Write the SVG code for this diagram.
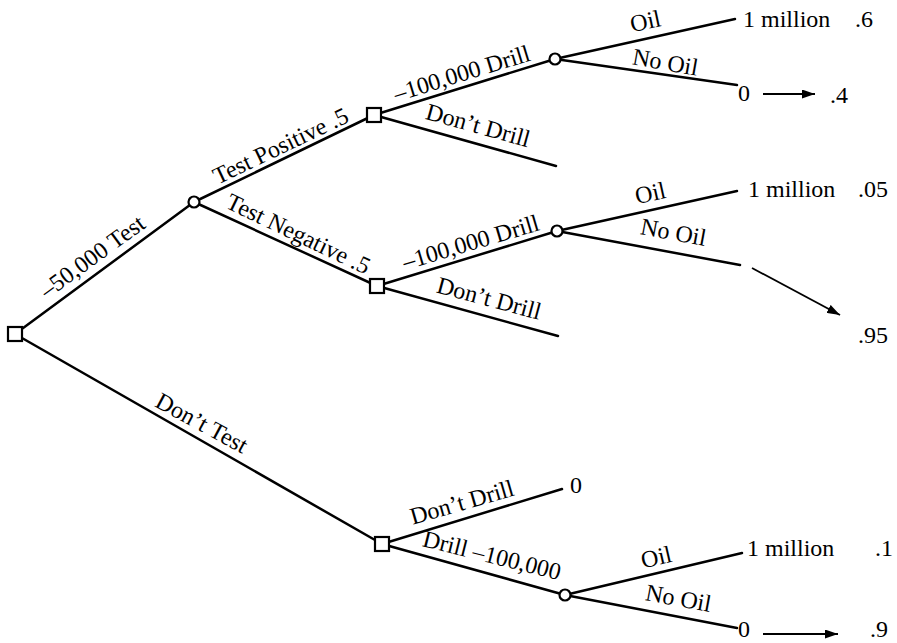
<svg xmlns="http://www.w3.org/2000/svg" width="897" height="643" viewBox="0 0 897 643">
<style>
.ln{stroke:#000;stroke-width:2.5;fill:none;stroke-linecap:round}
.ar{stroke:#000;stroke-width:1.8;fill:none}
.dec{fill:#fff;stroke:#000;stroke-width:2.2}
.chn{fill:#fff;stroke:#000;stroke-width:2.2}
text{font-family:"Liberation Serif","Times New Roman",serif;font-size:24px;fill:#000}
.lbl{text-anchor:middle}
</style>
<defs>
<marker id="ah" viewBox="0 0 13 9" refX="13" refY="4.5" markerWidth="13" markerHeight="9" markerUnits="userSpaceOnUse" orient="auto">
<path d="M0,0 L13,4.5 L0,9 Z" fill="#000"/>
</marker>
</defs>
<g id="connectors">
<line class="ln" x1="15" y1="334" x2="194" y2="202"/>
<line class="ln" x1="15" y1="334" x2="382" y2="544"/>
<line class="ln" x1="194" y1="202" x2="374" y2="115"/>
<line class="ln" x1="194" y1="202" x2="377" y2="286"/>
<line class="ln" x1="374" y1="115" x2="555" y2="59"/>
<line class="ln" x1="374" y1="115" x2="556" y2="166"/>
<line class="ln" x1="555" y1="59" x2="735" y2="19"/>
<line class="ln" x1="555" y1="59" x2="737" y2="85"/>
<line class="ln" x1="377" y1="286" x2="557" y2="231"/>
<line class="ln" x1="377" y1="286" x2="558" y2="336"/>
<line class="ln" x1="557" y1="231" x2="737" y2="191"/>
<line class="ln" x1="557" y1="231" x2="740" y2="265"/>
<line class="ln" x1="382" y1="544" x2="562" y2="489"/>
<line class="ln" x1="382" y1="544" x2="565" y2="595"/>
<line class="ln" x1="565" y1="595" x2="742" y2="553"/>
<line class="ln" x1="565" y1="595" x2="737" y2="628"/>
<line class="ar" x1="763" y1="94" x2="815" y2="94" marker-end="url(#ah)"/>
<line class="ar" x1="752" y1="268" x2="840" y2="315" marker-end="url(#ah)"/>
<line class="ar" x1="763" y1="634" x2="838" y2="634" marker-end="url(#ah)"/>
</g>
<g id="edge-labels">
<text class="lbl" transform="translate(97,263) rotate(-36)">–50,000 Test</text>
<text class="lbl" transform="translate(284,153) rotate(-25.5)">Test Positive .5</text>
<text class="lbl" transform="translate(464,81) rotate(-17)">–100,000 Drill</text>
<text class="lbl" transform="translate(476,133) rotate(15.4)">Don’t Drill</text>
<text class="lbl" transform="translate(295,241) rotate(25.5)">Test Negative .5</text>
<text class="lbl" transform="translate(473,250) rotate(-16.5)">–100,000 Drill</text>
<text class="lbl" transform="translate(487,306) rotate(15)">Don’t Drill</text>
<text class="lbl" transform="translate(198,430) rotate(28.5)">Don’t Test</text>
<text class="lbl" transform="translate(464,510) rotate(-16)">Don’t Drill</text>
<text class="lbl" transform="translate(490,563) rotate(14)">Drill –100,000</text>
<text class="lbl" transform="translate(647,29) rotate(-12)">Oil</text>
<text class="lbl" transform="translate(664,70) rotate(10)">No Oil</text>
<text class="lbl" transform="translate(652,201) rotate(-12.5)">Oil</text>
<text class="lbl" transform="translate(672,240) rotate(10.5)">No Oil</text>
<text class="lbl" transform="translate(658,565) rotate(-13)">Oil</text>
<text class="lbl" transform="translate(677,606) rotate(10.5)">No Oil</text>
</g>
<g id="outcomes">
<text x="743" y="27">1 million</text>
<text x="855" y="27">.6</text>
<text x="738" y="101">0</text>
<text x="830" y="103">.4</text>
<text x="748" y="197">1 million</text>
<text x="858" y="197">.05</text>
<text x="858" y="343">.95</text>
<text x="570" y="493">0</text>
<text x="747" y="556">1 million</text>
<text x="875" y="556">.1</text>
<text x="738" y="637">0</text>
<text x="870" y="637">.9</text>
</g>
<g id="node-root"><rect class="dec" x="8" y="327" width="14" height="14"/></g>
<g id="node-test-chance"><circle class="chn" cx="194" cy="202" r="5.5"/></g>
<g id="node-pos-decision"><rect class="dec" x="367" y="108" width="14" height="14"/></g>
<g id="node-pos-drill-chance"><circle class="chn" cx="555" cy="59" r="5.5"/></g>
<g id="node-neg-decision"><rect class="dec" x="370" y="279" width="14" height="14"/></g>
<g id="node-neg-drill-chance"><circle class="chn" cx="557" cy="231" r="5.5"/></g>
<g id="node-notest-decision"><rect class="dec" x="375" y="537" width="14" height="14"/></g>
<g id="node-notest-drill-chance"><circle class="chn" cx="565" cy="595" r="5.5"/></g>
</svg>
